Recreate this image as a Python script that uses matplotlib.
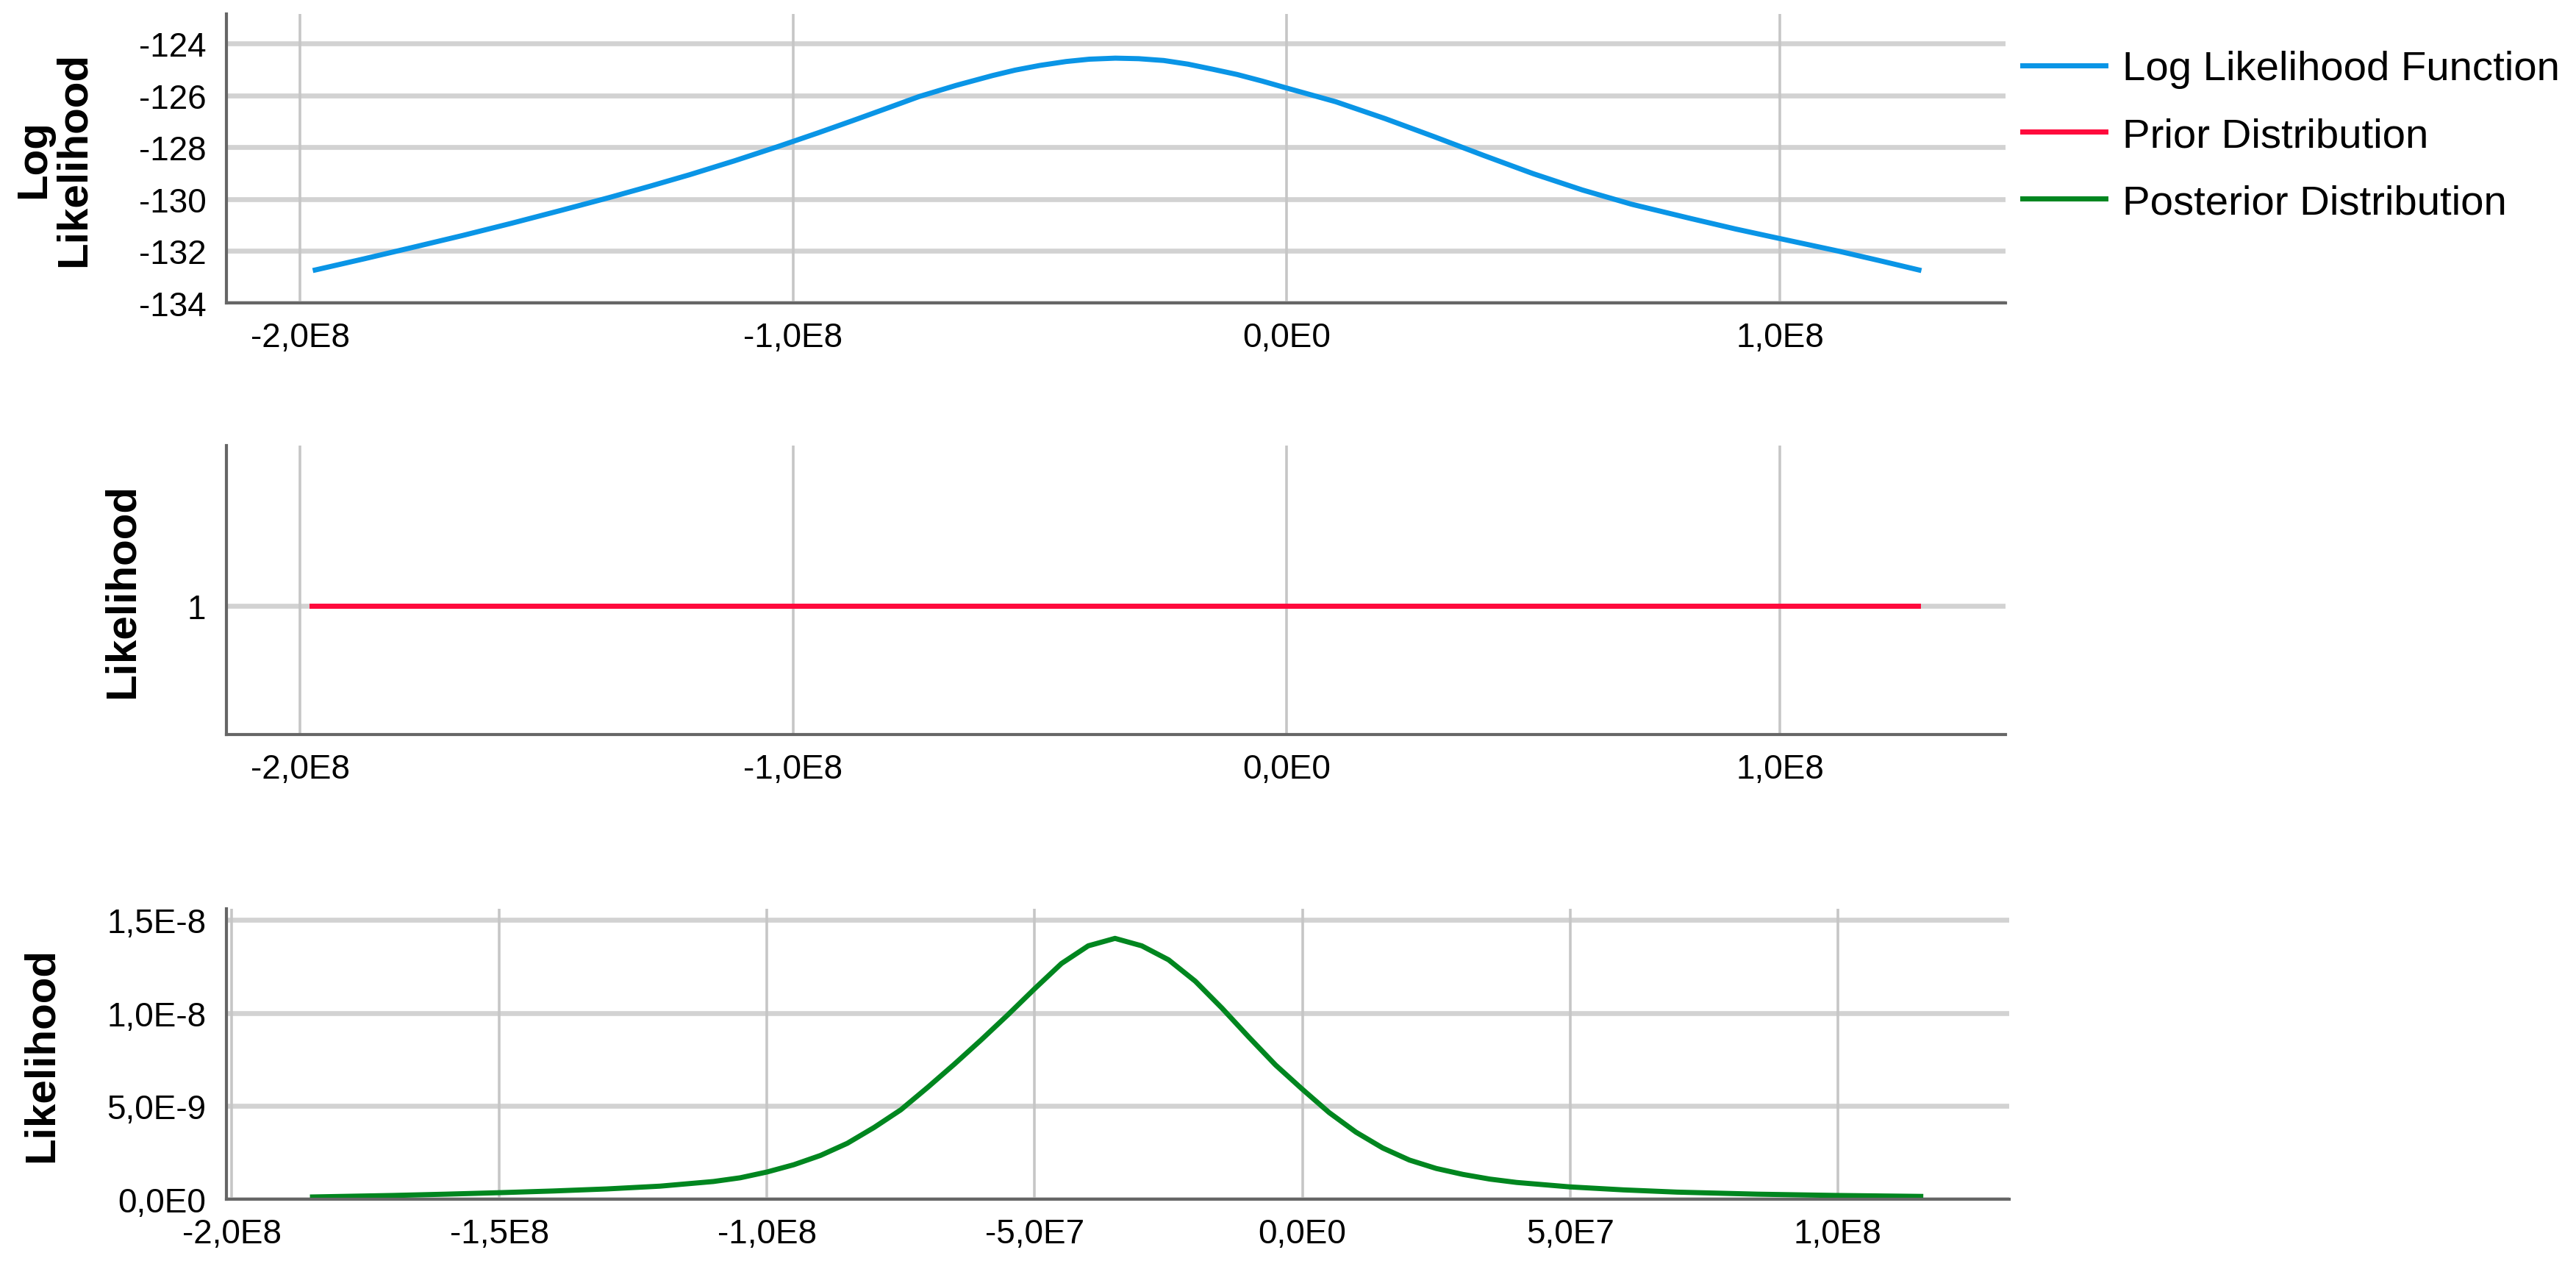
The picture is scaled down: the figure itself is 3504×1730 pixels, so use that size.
import matplotlib
matplotlib.use("Agg")
import matplotlib.pyplot as plt

plt.rcParams['font.family'] = ['Liberation Sans', 'DejaVu Sans']

# --- data (x in units of 1E8) ---
ll_x = [-1.969, -1.87, -1.776, -1.67, -1.571, -1.47, -1.375, -1.29, -1.21, -1.12,
        -1.03, -0.95, -0.88, -0.81, -0.745, -0.67, -0.596, -0.55, -0.5, -0.447,
        -0.4, -0.347, -0.3, -0.249, -0.2, -0.149, -0.1, -0.05, 0.0, 0.1,
        0.2, 0.3, 0.4, 0.5, 0.6, 0.7, 0.82, 0.91, 1.0, 1.118,
        1.2, 1.282]
ll_y = [-132.73, -132.3, -131.88, -131.4, -130.93, -130.43, -129.95, -129.5, -129.06, -128.53,
        -127.97, -127.45, -126.98, -126.5, -126.05, -125.62, -125.24, -125.03, -124.85, -124.70,
        -124.61, -124.57, -124.59, -124.66, -124.80, -125.0, -125.2, -125.45, -125.72, -126.25,
        -126.9, -127.6, -128.32, -129.02, -129.65, -130.2, -130.75, -131.15, -131.52, -132.0,
        -132.36, -132.73]

prior_x = [-1.976, 1.28]
prior_y = [1, 1]

# posterior likelihood in units of 1E-9
post_x = [-1.849, -1.7, -1.6, -1.5, -1.4, -1.3, -1.2, -1.1, -1.05, -1.0,
          -0.95, -0.9, -0.85, -0.8, -0.75, -0.7, -0.65, -0.6, -0.55, -0.5,
          -0.45, -0.4, -0.35, -0.3, -0.25, -0.2, -0.15, -0.1, -0.05, 0.0,
          0.05, 0.1, 0.15, 0.2, 0.25, 0.3, 0.35, 0.4, 0.5, 0.6,
          0.7, 0.85, 1.0, 1.155]
post_y = [0.12, 0.2, 0.27, 0.35, 0.44, 0.55, 0.7, 0.95, 1.15, 1.46,
          1.85, 2.35, 3.0, 3.85, 4.8, 6.0, 7.25, 8.55, 9.9, 11.3,
          12.65, 13.6, 14.0, 13.6, 12.85, 11.7, 10.25, 8.7, 7.2, 5.9,
          4.65, 3.6, 2.75, 2.1, 1.65, 1.33, 1.08, 0.9, 0.66, 0.5,
          0.38, 0.27, 0.2, 0.15]

top_xticks = [-2e8, -1e8, 0, 1e8]
top_xlabels = ["-2,0E8", "-1,0E8", "0,0E0", "1,0E8"]
ll_yticks = [-134, -132, -130, -128, -126, -124]
ll_ylabels = ["-134", "-132", "-130", "-128", "-126", "-124"]
prior_yticks = [1]
prior_ylabels = ["1"]
post_xticks = [-2e8, -1.5e8, -1e8, -5e7, 0, 5e7, 1e8]
post_xlabels = ["-2,0E8", "-1,5E8", "-1,0E8", "-5,0E7", "0,0E0", "5,0E7", "1,0E8"]
post_yticks = [0, 5e-9, 1e-8, 1.5e-8]
post_ylabels = ["0,0E0", "5,0E-9", "1,0E-8", "1,5E-8"]

labels = ["Log Likelihood Function", "Prior Distribution", "Posterior Distribution"]
colors = ["#0a95e6", "#ff0a3c", "#00861f"]


def style(ax):
    for s in ["top", "right"]:
        ax.spines[s].set_visible(False)
    for s in ["left", "bottom"]:
        ax.spines[s].set_color("#666666")
        ax.spines[s].set_linewidth(1.5)
        ax.spines[s].set_zorder(4)
    ax.tick_params(length=0, labelsize=16.5, pad=9)
    ax.tick_params(axis="y", pad=10)
    for yv in ax.get_yticks():
        ax.axhline(yv, color="#d2d2d2", lw=2.4, zorder=1)
    for xv in ax.get_xticks():
        ax.axvline(xv, color="#c6c6c6", lw=1.3, zorder=1)


fig = plt.figure(figsize=(17.525, 8.655), dpi=200)

# top: log likelihood
ax1 = fig.add_axes([0.0879, 0.7614, 0.6904, 0.2270])
l1, = ax1.plot([v * 1e8 for v in ll_x], ll_y, color=colors[0], lw=2.5, zorder=3)
ax1.set_xlim(-2.149e8, 1.4575e8)
ax1.set_ylim(-134, -122.87)
ax1.set_xticks(top_xticks)
ax1.set_xticklabels(top_xlabels)
ax1.set_yticks(ll_yticks)
ax1.set_yticklabels(ll_ylabels)
ax1.set_ylabel("Log\nLikelihood", fontsize=21, fontweight="bold", labelpad=22, linespacing=1.0)
style(ax1)

# middle: prior
ax2 = fig.add_axes([0.0879, 0.4223, 0.6904, 0.2270])
l2, = ax2.plot([v * 1e8 for v in prior_x], prior_y, color=colors[1], lw=2.5, zorder=3)
ax2.set_xlim(-2.149e8, 1.4575e8)
ax2.set_ylim(0.6, 1.5)
ax2.set_xticks(top_xticks)
ax2.set_xticklabels(top_xlabels)
ax2.set_yticks(prior_yticks)
ax2.set_yticklabels(prior_ylabels)
ax2.set_ylabel("Likelihood", fontsize=21, fontweight="bold", labelpad=22)
style(ax2)

# bottom: posterior
ax3 = fig.add_axes([0.0879, 0.0572, 0.6918, 0.2282])
l3, = ax3.plot([v * 1e8 for v in post_x], [v * 1e-9 for v in post_y], color=colors[2], lw=2.5, zorder=3)
ax3.set_xlim(-2.0096e8, 1.32e8)
ax3.set_ylim(0, 1.559e-8)
ax3.set_xticks(post_xticks)
ax3.set_xticklabels(post_xlabels)
ax3.set_yticks(post_yticks)
ax3.set_yticklabels(post_ylabels)
ax3.set_ylabel("Likelihood", fontsize=21, fontweight="bold", labelpad=22)
style(ax3)

fig.legend([l1, l2, l3], labels, loc="upper left", bbox_to_anchor=(0.785, 0.96),
           frameon=False, fontsize=20.3, handlelength=2.0, handletextpad=0.4,
           labelspacing=0.69, borderpad=0, borderaxespad=0)

fig.savefig("out.png", dpi=200)
